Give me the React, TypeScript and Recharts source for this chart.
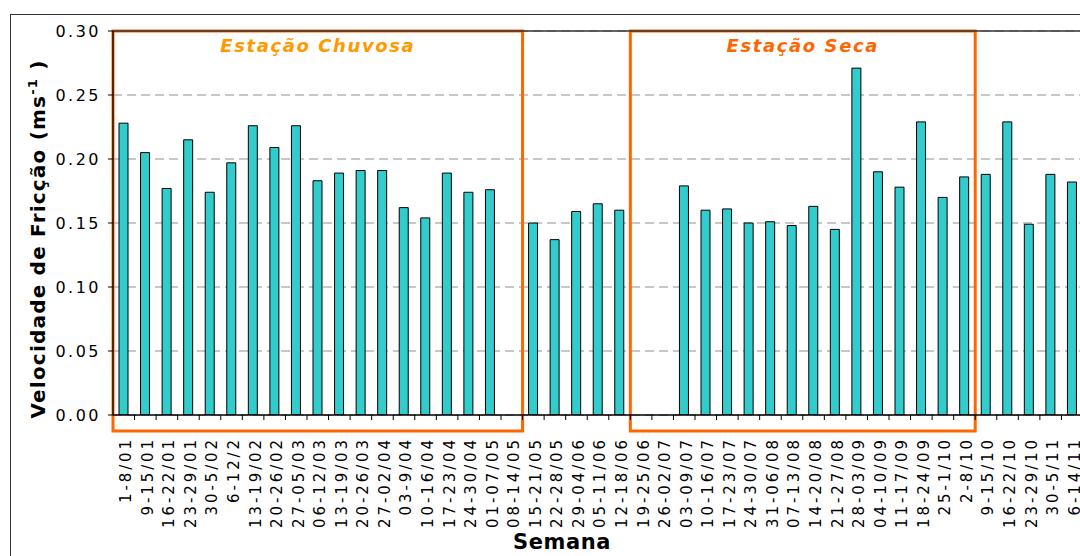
import React from 'react';
import { BarChart, Bar, XAxis, YAxis, CartesianGrid, ReferenceArea, ReferenceLine } from 'recharts';

const semanas = [
  '1-8/01', '9-15/01', '16-22/01', '23-29/01', '30-5/02', '6-12/2', '13-19/02', '20-26/02', '27-05/03',
  '06-12/03', '13-19/03', '20-26/03', '27-02/04', '03-9/04', '10-16/04', '17-23/04', '24-30/04', '01-07/05',
  '08-14/05', '15-21/05', '22-28/05', '29-04/06', '05-11/06', '12-18/06', '19-25/06', '26-02/07', '03-09/07',
  '10-16/07', '17-23/07', '24-30/07', '31-06/08', '07-13/08', '14-20/08', '21-27/08', '28-03/09', '04-10/09',
  '11-17/09', '18-24/09', '25-1/10', '2-8/10', '9-15/10', '16-22/10', '23-29/10', '30-5/11', '6-14/11',
];

const velocidade: (number | null)[] = [
  0.228, 0.205, 0.177, 0.215, 0.174, 0.197, 0.226, 0.209, 0.226,
  0.183, 0.189, 0.191, 0.191, 0.162, 0.154, 0.189, 0.174, 0.176,
  null, 0.150, 0.137, 0.159, 0.165, 0.160, null, null, 0.179,
  0.160, 0.161, 0.150, 0.151, 0.148, 0.163, 0.145, 0.271, 0.190,
  0.178, 0.229, 0.170, 0.186, 0.188, 0.229, 0.149, 0.188, 0.182,
];

const yTicks = [0, 0.05, 0.1, 0.15, 0.2, 0.25, 0.3];

const estacaoChuvosa = { inicio: '1-8/01', fim: '08-14/05', nome: 'Estação Chuvosa', cor: '#FF9900' };
const estacaoSeca = { inicio: '19-25/06', fim: '2-8/10', nome: 'Estação Seca', cor: '#FF6600' };

const data = semanas.map((s, i) => ({ semana: s, v: velocidade[i] }));

const FONT = '"DejaVu Sans", Verdana, sans-serif';

const XTick = (props: any) => {
  const { x, y, payload } = props;
  const off = payload && typeof payload.offset === 'number' ? payload.offset : 10.78;
  return (
    <g>
      <line x1={x + off} x2={x + off} y1={y} y2={y + 5} stroke="#000" strokeWidth={1} />
      <text
        transform={`translate(${x + 2},${y + 22}) rotate(-90)`}
        textAnchor="end"
        dy="0.36em"
        fontSize={15}
        letterSpacing={2.9}
        fontFamily={FONT}
        fill="#000"
      >
        {payload.value}
      </text>
    </g>
  );
};

const YLabel = (props: any) => {
  const vb = props.viewBox || {};
  const cy = vb.y + vb.height / 2 + 16;
  return (
    <text
      transform={`translate(38,${cy}) rotate(-90)`}
      textAnchor="middle"
      dy="0.36em"
      fontSize={20}
      fontWeight="bold"
      letterSpacing={1.2}
      fontFamily={FONT}
      fill="#000"
    >
      Velocidade de Fricção (ms
      <tspan dy={-8} fontSize={13}>-1</tspan>
      <tspan dy={8}> )</tspan>
    </text>
  );
};

const boxShape = (props: any) => {
  const { x, y, width, height } = props;
  return (
    <rect x={x} y={y} width={width} height={height} fill="none" stroke="#FF6600" strokeWidth={3} />
  );
};

export default function App() {
  return (
    <div style={{ position: 'fixed', left: 0, top: 0, width: 1080, height: 556, overflow: 'hidden', background: '#fff' }}>
      <div style={{ position: 'absolute', left: 10, top: 14, width: 1200, height: 700, border: '1.5px solid #333' }} />
      <div style={{ position: 'absolute', left: 0, top: 0 }}>
        <BarChart
          width={1090}
          height={556}
          data={data}
          margin={{ top: 31, right: 7, left: 0, bottom: 0 }}
          barCategoryGap={0}
        >
          <CartesianGrid vertical={false} stroke="#b5b5b5" strokeDasharray="9 5" strokeWidth={1.3} />
          <XAxis
            dataKey="semana"
            interval={0}
            height={141}
            tickLine={false}
            tickSize={0}
            tickMargin={0}
            tick={<XTick />}
            axisLine={{ stroke: '#000', strokeWidth: 1.3 }}
            label={{ value: 'Semana', position: 'insideBottom', offset: 7, dx: -36, fontSize: 21, fontWeight: 'bold', fontFamily: FONT, fill: '#000', letterSpacing: 0.6 }}
          />
          <YAxis
            width={113}
            domain={[0, 0.3]}
            ticks={yTicks}
            allowDataOverflow
            tickFormatter={(v: number) => v.toFixed(2)}
            tickSize={5}
            tickMargin={7}
            tickLine={{ stroke: '#000' }}
            axisLine={{ stroke: '#000', strokeWidth: 1.3 }}
            tick={{ fontSize: 16, fontFamily: FONT, fill: '#000', letterSpacing: 2.5 }}
            label={<YLabel />}
          />
          <ReferenceLine y={0.3} stroke="#333" strokeWidth={1.5} ifOverflow="visible" />
          <Bar dataKey="v" fill="#33CCCC" stroke="#000" strokeWidth={1} barSize={9} isAnimationActive={false} />
          {[estacaoChuvosa, estacaoSeca].map((e) => (
            <ReferenceArea
              key={e.nome}
              x1={e.inicio}
              x2={e.fim}
              y1={-0.0125}
              y2={0.3}
              ifOverflow="visible"
              shape={boxShape}
              label={{
                value: e.nome,
                position: 'insideTop',
                offset: 8,
                fill: e.cor,
                fontSize: 18,
                fontWeight: 'bold',
                fontStyle: 'italic',
                fontFamily: FONT,
                letterSpacing: 1.6,
              }}
            />
          ))}
        </BarChart>
      </div>
    </div>
  );
}
